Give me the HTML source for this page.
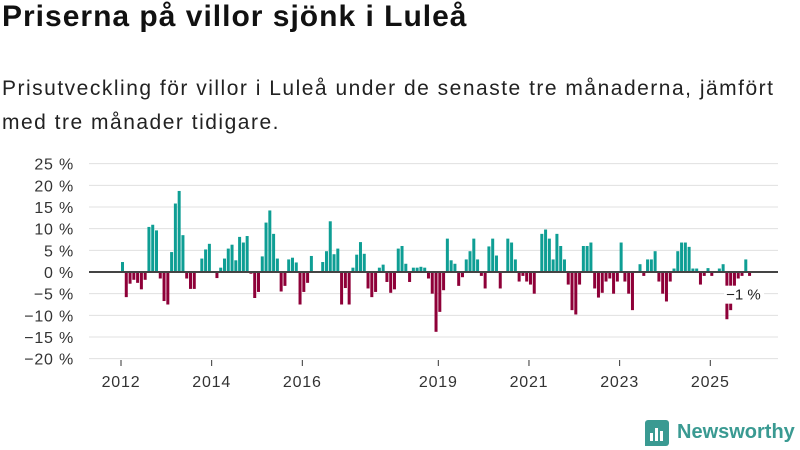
<!DOCTYPE html>
<html><head><meta charset="utf-8">
<style>
body{margin:0;width:800px;height:450px;background:#fff;font-family:"Liberation Sans",sans-serif;color:#111;overflow:hidden;position:relative}
#title{position:absolute;left:2px;top:0px;font-size:30px;font-weight:bold;margin:0;letter-spacing:1px}
#sub{position:absolute;left:2px;top:72px;font-size:21px;line-height:34px;width:798px;color:#222;letter-spacing:1.5px;white-space:nowrap}
svg{position:absolute;left:0;top:0}
</style></head><body>
<h1 id="title">Priserna på villor sjönk i Luleå</h1>
<div id="sub">Prisutveckling för villor i Luleå under de senaste tre månaderna, jämfört<br>med tre månader tidigare.</div>
<svg id="chart" width="800" height="450"></svg>
<div style="position:absolute;left:645px;top:420px;width:24px;height:26px;background:#3a9a92;border-radius:3px 3px 3px 0">
<div style="position:absolute;left:5px;top:13px;width:3px;height:8px;background:#fff"></div>
<div style="position:absolute;left:10px;top:8px;width:3px;height:13px;background:#fff"></div>
<div style="position:absolute;left:15px;top:11px;width:3px;height:10px;background:#fff"></div>
</div>
<div style="position:absolute;left:677px;top:421px;font-size:20px;font-weight:bold;color:#3a9a92">Newsworthy</div>
<script>
const startYear = 2012;
const values = [2.3,-5.8,-2.7,-1.8,-2.5,-4,-1.8,10.4,10.9,9.6,-1.5,-6.7,-7.5,4.6,15.8,18.7,8.5,-1.5,-3.9,-3.9,0,3.1,5.2,6.5,0,-1.4,1,3.1,5.4,6.3,2.7,8.1,6.8,8.3,-0.4,-6,-4.6,3.6,11.4,14.2,8.8,3.1,-4.5,-3.2,2.9,3.3,2.2,-7.5,-4.6,-2.5,3.7,0,0,2.3,4.8,11.7,4.1,5.4,-7.5,
-3.7,-7.5,1,4,6.9,4.2,-3.8,-5.8,-4.6,1,1.7,-2.3,-4.8,-4,5.4,6,1.9,-2.3,1,1,1.2,1,-1.5,-5,-13.8,-9.2,-4.2,7.7,2.7,1.9,-3.2,-1.2,2.9,4.8,7.7,2.9,-0.9,-3.8,5.9,7.7,3.8,-3.8,0,7.7,6.8,2.9,-2.2,-0.9,-2.2,-2.9,-5,0,8.8,9.8,7.7,
2.9,8.8,6,2.9,-2.9,-8.8,-9.8,-2.9,6,6,6.8,-3.8,-5.9,-4.8,-2.2,-1.5,-5,-2.2,6.8,-2.2,-5,-8.8,0,1.8,-0.9,2.9,2.9,4.8,-2.2,-5,-6.8,-2.2,0.8,4.8,6.8,6.8,5.8,0.8,0.8,-2.9,-0.9,0.9,-0.9,0,0.8,1.8,-10.9,-8.8,-4.5,-1.5,-0.9,2.9,-0.9];
const yTicks = [25,20,15,10,5,0,-5,-10,-15,-20];
const xTickYears = [2012,2014,2016,2019,2021,2023,2025];
const lastLabel = "−1 %";

const svg = document.getElementById('chart');
const NS = 'http://www.w3.org/2000/svg';
const x = m => 121 + m * (45.33/12);
const y = v => 272 - v * (21.67/5);
function mk(tag, attrs){const e=document.createElementNS(NS,tag);for(const k in attrs)e.setAttribute(k,attrs[k]);svg.appendChild(e);return e;}
yTicks.forEach(t=>{
  const g = mk('line',{x1:89,x2:778,y1:y(t),y2:y(t),stroke:'#e0e0e0','stroke-width':1});
  
  
  const tx = mk('text',{x:74,y:y(t)+6,'text-anchor':'end','font-size':16,fill:'#333','letter-spacing':'0.8'});
  tx.textContent = (t<0?'−'+(-t):t)+' %';
  
  
});
xTickYears.forEach(yr=>{
  const m=(yr-startYear)*12;
  const tk = mk('line',{x1:x(m),x2:x(m),y1:360,y2:366,stroke:'#333','stroke-width':1});
  
  
  const tx = mk('text',{x:x(m),y:387,'text-anchor':'middle','font-size':16,fill:'#333','letter-spacing':'0.8'});
  tx.textContent = yr;
  
  
});
values.forEach((v,i)=>{
  if(v===0) return;
  const r = mk('rect',{x:x(i),width:3,y:Math.min(y(v),y(0)),height:Math.abs(y(v)-y(0)),fill:v>0?'#0e9e94':'#8e0038'});
  
  
});
const zl = mk('line',{x1:89,x2:778,y1:y(0),y2:y(0),stroke:'#444','stroke-width':2});


const li = values.length-1;
const lb = mk('rect',{x:x(li)-24,y:y(-5)-8,width:40,height:18,fill:'#fff'});


const lt = mk('text',{x:x(li)-22,y:y(-5)+6,'font-size':15,fill:'#222'});
lt.textContent = lastLabel;


</script>
</body></html>
